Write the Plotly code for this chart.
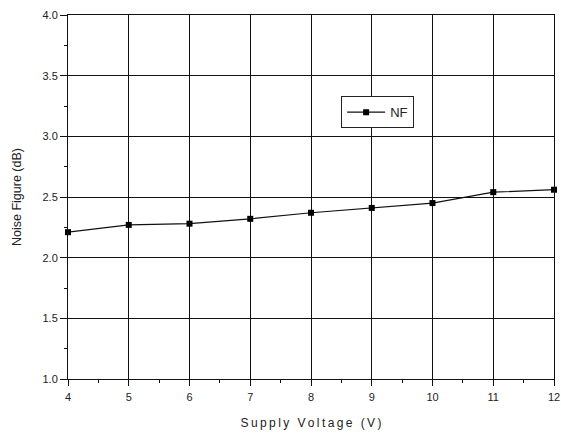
import plotly.graph_objects as go

voltage = [4, 5, 6, 7, 8, 9, 10, 11, 12]
nf_db = [2.21, 2.27, 2.28, 2.32, 2.37, 2.41, 2.45, 2.54, 2.56]
x_ticks = [4, 5, 6, 7, 8, 9, 10, 11, 12]
y_ticks = [1.0, 1.5, 2.0, 2.5, 3.0, 3.5, 4.0]
y_tick_labels = ["1.0", "1.5", "2.0", "2.5", "3.0", "3.5", "4.0"]

fig = go.Figure()
fig.add_trace(go.Scatter(
    x=voltage, y=nf_db, mode="lines+markers", name="NF",
    line=dict(color="#111111", width=1.2),
    marker=dict(symbol="square", size=6, color="#000000"),
    cliponaxis=False,
))

ts = "\u2009"
x_title = ts.join("Supply Voltage (V)")
y_title = "Noise Figure (dB)"

font_family = "Liberation Sans, Arial, sans-serif"
fig.update_layout(
    width=561, height=437,
    margin=dict(l=68, r=7, t=15, b=58, autoexpand=False),
    paper_bgcolor="white", plot_bgcolor="white",
    font=dict(family=font_family, size=11, color="#222222"),
    showlegend=True,
    legend=dict(
        x=0.562, y=0.733, xanchor="left", yanchor="middle",
        bordercolor="#222222", borderwidth=1, bgcolor="white",
        font=dict(size=13, color="#222222"),
        itemwidth=38, tracegroupgap=0,
    ),
    xaxis=dict(
        range=[4, 12], tickvals=x_ticks, ticktext=[str(v) for v in x_ticks],
        showgrid=True, gridcolor="#111111", gridwidth=1,
        showline=True, linecolor="#111111", linewidth=1, mirror=True,
        ticks="outside", ticklen=6, tickcolor="#111111",
        ticklabelstandoff=2,
        minor=dict(ticks="outside", ticklen=3, dtick=0.5, tick0=4, tickcolor="#111111", showgrid=False),
        zeroline=False, automargin=False,
        title=dict(text=x_title, font=dict(size=12, color="#222222"), standoff=16),
        tickfont=dict(size=11, color="#222222"),
    ),
    yaxis=dict(
        range=[1.0, 4.0], tickvals=y_ticks, ticktext=y_tick_labels,
        showgrid=True, gridcolor="#111111", gridwidth=1,
        showline=True, linecolor="#111111", linewidth=1, mirror=True,
        ticks="outside", ticklen=7, tickcolor="#111111",
        minor=dict(ticks="outside", ticklen=3, dtick=0.25, tick0=1, tickcolor="#111111", showgrid=False),
        zeroline=False, automargin=False,
        title=dict(text=y_title, font=dict(size=12.5, color="#222222"), standoff=18),
        tickfont=dict(size=11, color="#222222"),
    ),
)

fig.write_html("out.html", config={"displayModeBar": False},
               post_script="document.body.style.margin='0';")
